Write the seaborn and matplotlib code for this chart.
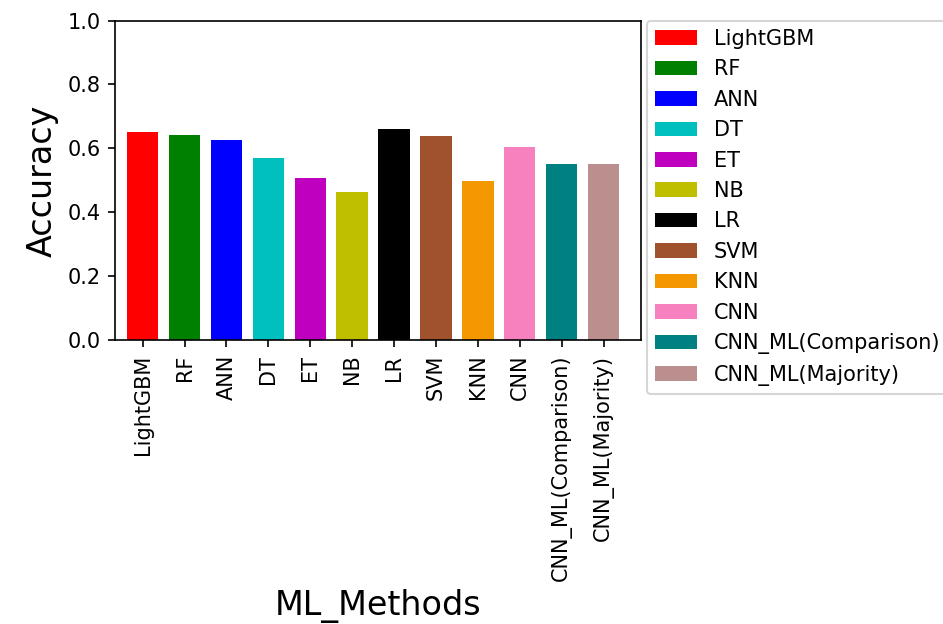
import matplotlib
matplotlib.use('Agg')
import matplotlib.pyplot as plt
import seaborn as sns
import pandas as pd

# --- Data ---
METHODS = ['LightGBM', 'RF', 'ANN', 'DT', 'ET', 'NB', 'LR', 'SVM', 'KNN', 'CNN',
           'CNN_ML(Comparison)', 'CNN_ML(Majority)']
ACCURACY = [0.651, 0.642, 0.626, 0.570, 0.507, 0.464, 0.661, 0.639, 0.498, 0.604,
            0.551, 0.551]
COLORS = ['#ff0000', '#008000', '#0000ff', '#00bfbf', '#bf00bf', '#bfbf00',
          '#000000', '#a0522d', '#f39800', '#f781bf', '#008080', '#bc8f8f']

df = pd.DataFrame({'ML_Methods': METHODS, 'Accuracy': ACCURACY})

fig = plt.figure(figsize=(943 / 150, 624 / 150), dpi=150)
ax = fig.add_axes([0.122, 0.455, 0.558, 0.512])

sns.barplot(data=df, x='ML_Methods', y='Accuracy', hue='ML_Methods',
            palette=COLORS, saturation=1, width=0.75, linewidth=0,
            legend=False, ax=ax)

ax.set_ylim(0, 1.0)
ax.set_xlim(-0.66, 11.9)
ax.set_yticks([0, 0.2, 0.4, 0.6, 0.8, 1.0])
ax.tick_params(axis='x', labelrotation=90, labelsize=10)
ax.tick_params(axis='y', labelsize=10)
ax.set_xlabel('ML_Methods', fontsize=16)
ax.set_ylabel('Accuracy', fontsize=16)

# one legend entry per bar
bars = [p for p in ax.patches if p.get_height() > 0][:len(METHODS)]
ax.legend(bars, METHODS, loc='upper left', bbox_to_anchor=(1.011, 1.0),
          borderaxespad=0, fontsize=10)

fig.savefig('out.png', dpi=150)
